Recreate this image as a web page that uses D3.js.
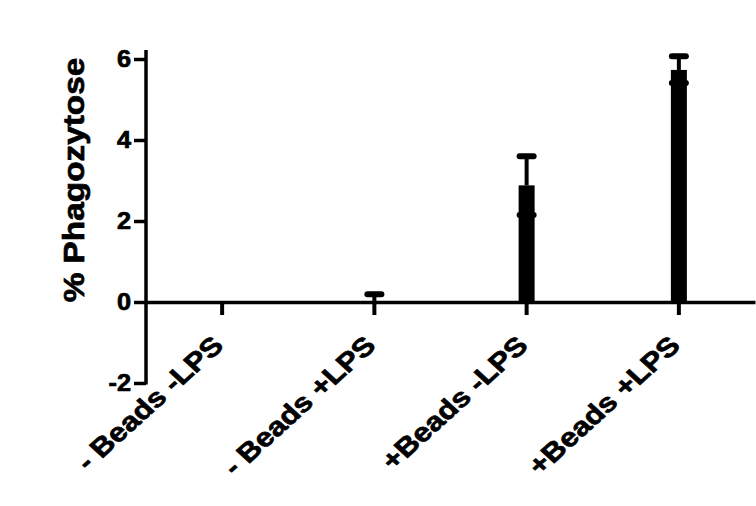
<!DOCTYPE html>
<html>
<head>
<meta charset="utf-8">
<script src="https://cdn.jsdelivr.net/npm/d3@7"></script>
<style>
  html, body { margin: 0; padding: 0; background: #fff; }
  svg { display: block; }
  text { font-family: "Liberation Sans", Arial, sans-serif; font-weight: bold; fill: #000; stroke: #000; stroke-width: 0.7px; }
</style>
</head>
<body>
<svg id="chart" width="756" height="506"></svg>
<script>
const categories = ["- Beads -LPS", "- Beads +LPS", "+Beads -LPS", "+Beads +LPS"];
const means = [0, 0.02, 2.88, 5.73];
const errors = [0, 0.17, 0.72, 0.34];
const points = [[], [0.19], [2.15, 3.6], [5.41, 6.07]];
const yTicks = [-2, 0, 2, 4, 6];
const yTickLabels = ["-2", "0", "2", "4", "6"];
const yAxisTop = 6.22;
const yLabel = "% Phagozytose";

const svg = d3.select("#chart");
const y = d3.scaleLinear().domain([-2, 6]).range([383, 59]);
const x = d3.scaleBand().domain(categories).range([146, 755]);
const cx = d => x(d) + x.bandwidth() / 2;

// Y axis
const yAxis = svg.append("g").attr("transform", "translate(146,0)")
  .call(d3.axisLeft(y).tickValues(yTicks).tickSize(12).tickPadding(4)
    .tickFormat((d, i) => yTickLabels[i]));
yAxis.select(".domain").remove();
yAxis.selectAll(".tick line").attr("stroke", "#000").attr("stroke-width", 3.5);
yAxis.selectAll(".tick text")
  .attr("font-size", 23)
  .attr("x", -15 / 1.1)
  .attr("dy", "0.34em")
  .attr("transform", "scale(1.1,1)");
svg.append("line")
  .attr("x1", 146).attr("x2", 146)
  .attr("y1", y(-2) + 1.5).attr("y2", y(yAxisTop))
  .attr("stroke", "#000").attr("stroke-width", 3.5);

// X axis
const xAxis = svg.append("g").attr("transform", `translate(0,${y(0)})`)
  .call(d3.axisBottom(x).tickSize(13).tickSizeOuter(0).tickFormat(""));
xAxis.select(".domain").attr("stroke", "#000").attr("stroke-width", 3.5);
xAxis.selectAll(".tick line").attr("stroke", "#000").attr("stroke-width", 4);

// Bars
const groups = categories.map((c, i) => ({ c, mean: means[i], err: errors[i], pts: points[i] }));
svg.append("g").selectAll("rect").data(groups).join("rect")
  .attr("x", d => cx(d.c) - 8)
  .attr("width", 16)
  .attr("y", d => y(Math.max(0, d.mean)))
  .attr("height", d => Math.abs(y(d.mean) - y(0)))
  .attr("fill", "#000");

// Error bars
svg.append("g").selectAll("line").data(groups.filter(d => d.err > 0)).join("line")
  .attr("x1", d => cx(d.c)).attr("x2", d => cx(d.c))
  .attr("y1", d => y(d.mean)).attr("y2", d => y(d.mean + d.err))
  .attr("stroke", "#000").attr("stroke-width", 4);

// Points (flat markers)
const pts = groups.flatMap(d => d.pts.map(v => ({ c: d.c, v })));
svg.append("g").selectAll("rect").data(pts).join("rect")
  .attr("x", d => cx(d.c) - 10)
  .attr("width", 20)
  .attr("y", d => y(d.v) - 3)
  .attr("height", 6)
  .attr("rx", 3).attr("ry", 3)
  .attr("fill", "#000");

// X labels
svg.append("g").selectAll("text").data(categories).join("text")
  .attr("text-anchor", "end")
  .attr("font-size", 26)
  .attr("transform", d => `translate(${cx(d) + 3},347) scale(1.1,1) rotate(-45) scale(1.1,1)`)
  .text(d => d);

// Y label
svg.append("text")
  .attr("text-anchor", "middle")
  .attr("font-size", 29)
  .attr("transform", "translate(84,180) rotate(-90) scale(1.15,1)")
  .text(yLabel);
</script>
</body>
</html>
